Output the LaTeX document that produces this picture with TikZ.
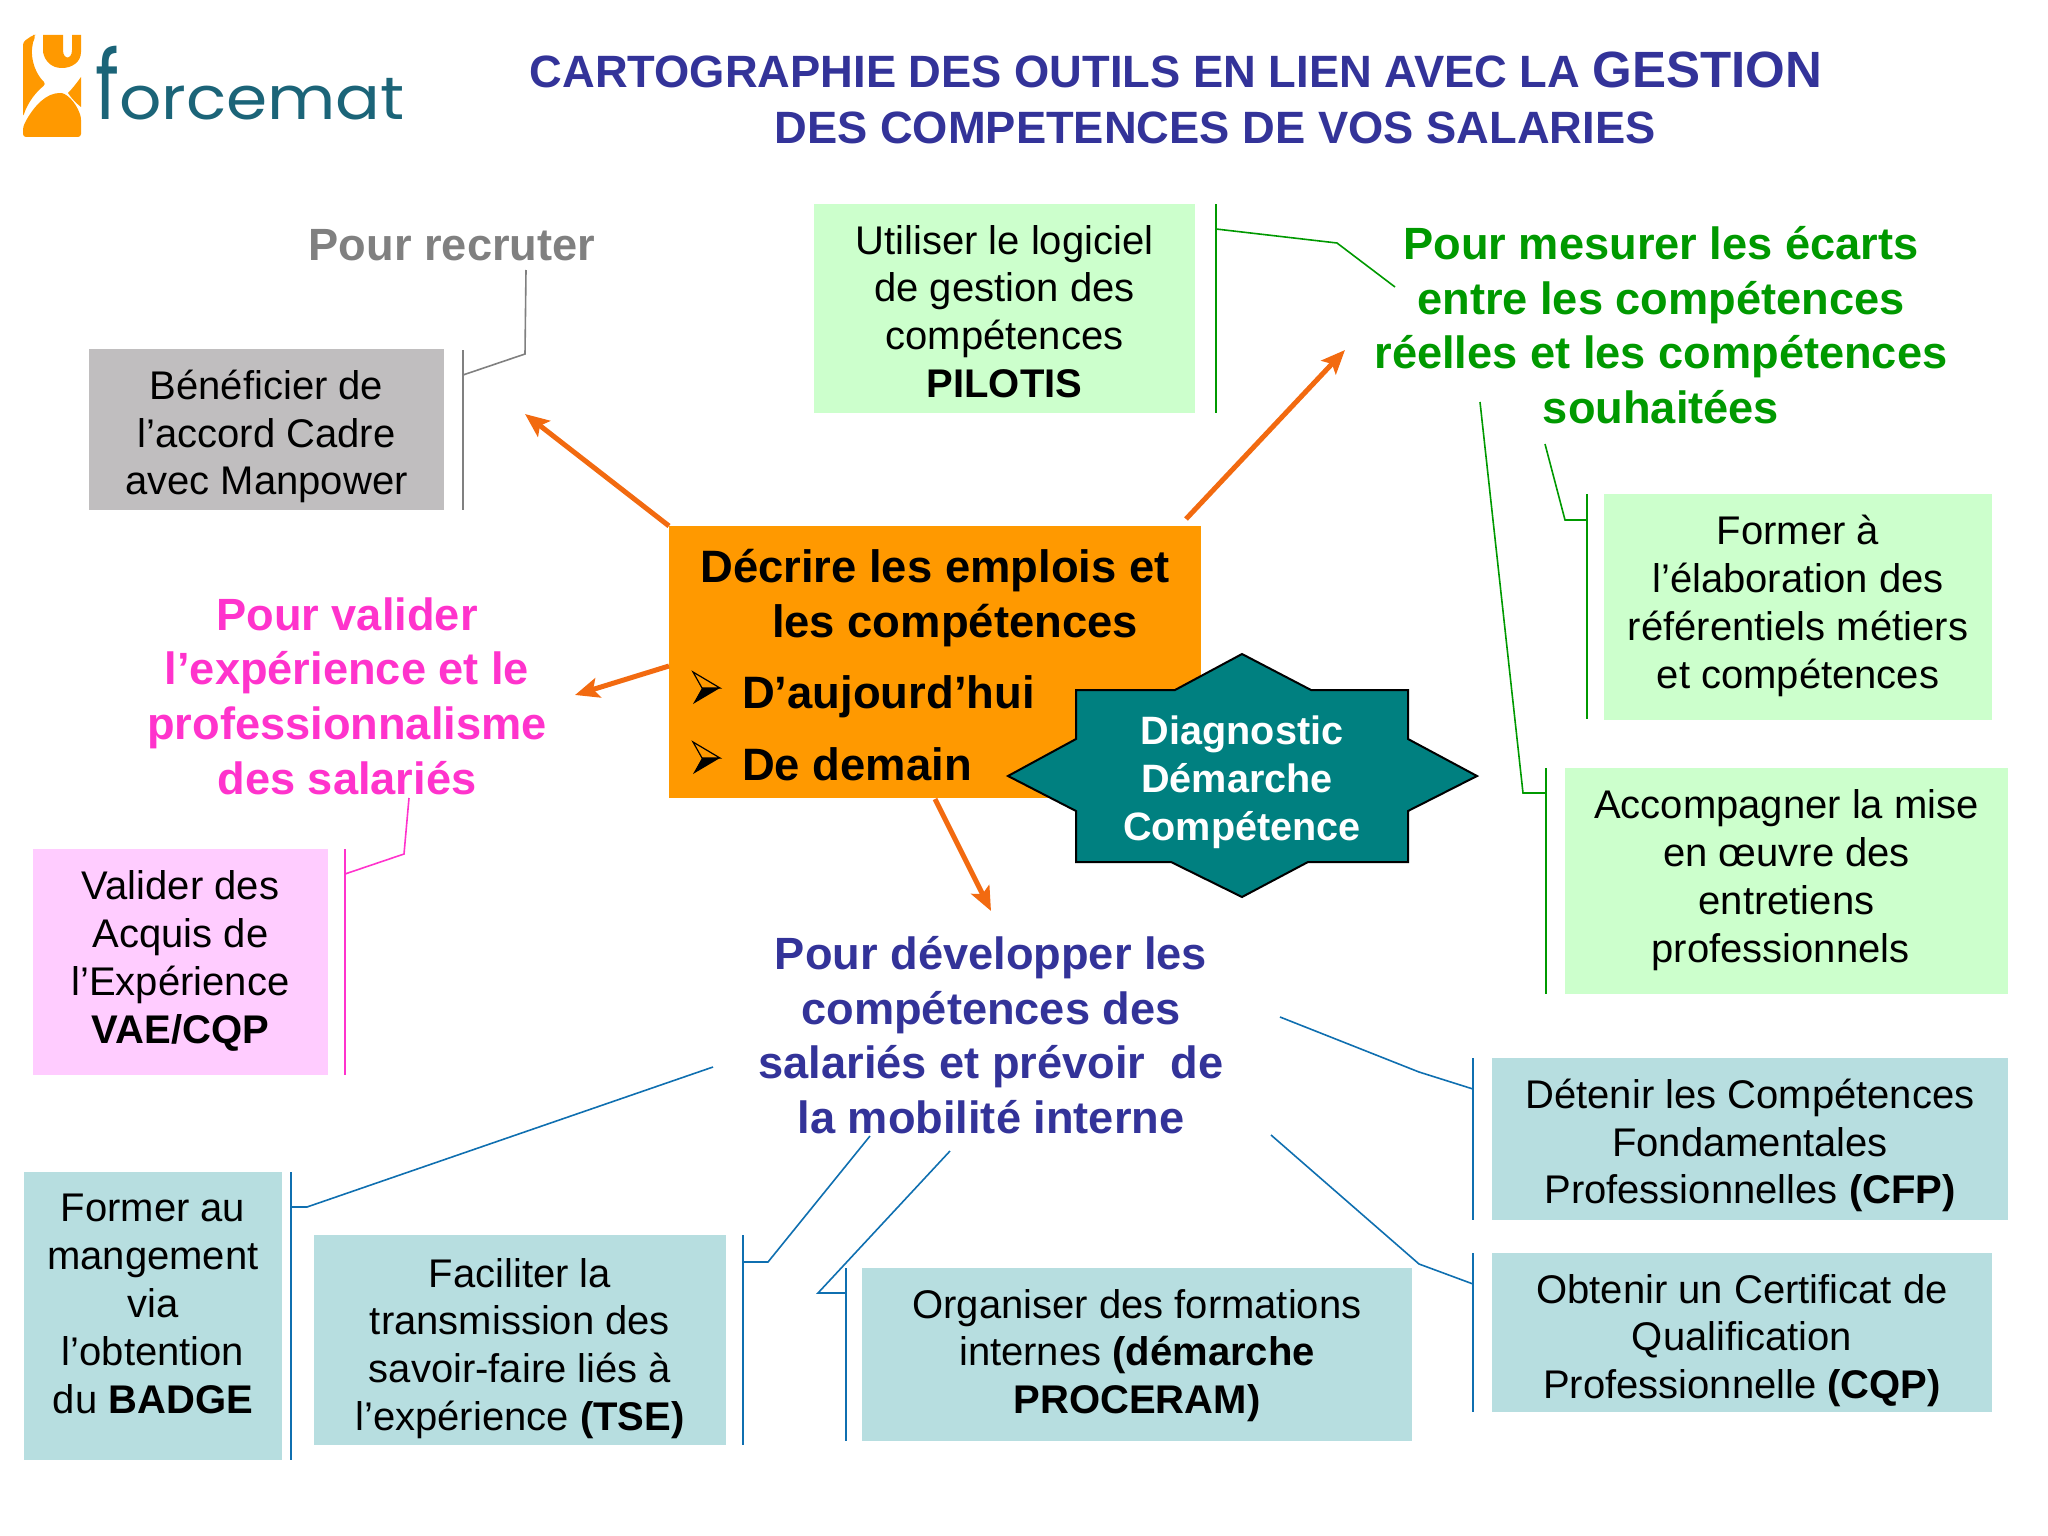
\documentclass[tikz,border=0pt]{standalone}
\usepackage{fontspec}
\setmainfont{Liberation Sans}
\newfontfamily\logofont{Poppins}
\usetikzlibrary{arrows.meta}
\definecolor{cblue}{HTML}{333399}
\definecolor{cgreen}{HTML}{009900}
\definecolor{cpink}{HTML}{FF33CC}
\definecolor{cgray}{HTML}{808080}
\definecolor{boxgray}{HTML}{C0BEBF}
\definecolor{boxgreen}{HTML}{CCFFCC}
\definecolor{boxpink}{HTML}{FFCCFF}
\definecolor{boxblue}{HTML}{B7DEE0}
\definecolor{corange}{HTML}{FF9900}
\definecolor{carrow}{HTML}{F26A10}
\definecolor{cteal}{HTML}{008080}
\definecolor{clink}{HTML}{0F6FB0}
\definecolor{clogo}{HTML}{1B6478}
\tikzset{
  x=1pt,y=-1pt,
  fillbox/.style={inner sep=0pt},
  textbox/.style={inner sep=0pt,align=center,font=\fontsize{40}{47.8}\selectfont,text=black},
  heading/.style={inner sep=0pt,align=center,font=\fontsize{45.2}{54.6}\selectfont\bfseries},
  centretext/.style={inner sep=0pt,font=\fontsize{45.4}{50}\selectfont\bfseries},
  titletext/.style={inner sep=0pt,anchor=base,text=cblue,font=\fontsize{45.3}{50}\selectfont\bfseries},
  bigarrow/.style={draw=carrow,line width=5pt,-{Stealth[length=24pt,width=20pt,inset=5pt]}},
  tick/.style={line width=1.8pt},
  link/.style={line width=1.6pt},
}
\begin{document}
\begin{tikzpicture}
\useasboundingbox (0,0) rectangle (2048,1536);
% logo
\fill[corange,rounded corners=3pt] (23,42) -- (33,35) -- (36,35) .. controls (29,50) and (32,70) .. (46,84) .. controls (36,92) and (28,102) .. (23,117) -- cycle;
\fill[corange] (43,35) -- (43,52) .. controls (45,62) and (52,68) .. (62,68) .. controls (72,68) and (81,62) .. (81,52) -- (81,35) -- (72,35) -- (72,50) .. controls (72,60) and (63,60) .. (63,50) -- (63,35) -- cycle;
\fill[corange] (81,77) .. controls (76,84) and (72,89) .. (68,93) .. controls (72,99) and (76,103) .. (81,107) -- cycle;
\fill[corange,rounded corners=3pt] (23,137) -- (81,137) -- (81,117) .. controls (75,100) and (65,93) .. (58,93) .. controls (42,96) and (30,112) .. (23,127) -- cycle;
\node[inner sep=0pt,text=clogo,anchor=base] (logotext) at (250,120) {\scalebox{1.105}[1.0]{\logofont\fontsize{60}{60}\selectfont\scalebox{1.1}[1.6]{f}orcemat}};
% title
\node[titletext] (title1) at (1176,88) {CARTOGRAPHIE DES OUTILS EN LIEN AVEC LA {\fontsize{51}{51}\selectfont GESTION}};
\node[titletext] (title2) at (1215,143) {DES COMPETENCES DE VOS SALARIES};
% boxes
\node[fillbox,fill=boxgray,minimum width=355pt,minimum height=161pt] (recruit) at (266.5,429.5) {};
\node[textbox] (recruitT) at (266.5,436.5) {Bénéficier de\\l’accord Cadre\\avec Manpower};
\node[fillbox,fill=boxgreen,minimum width=381pt,minimum height=209pt] (pilotis) at (1004.5,308.5) {};
\node[textbox] (pilotisT) at (1004.5,311.5) {Utiliser le logiciel\\de gestion des\\compétences\\\textbf{PILOTIS}};
\node[fillbox,fill=boxgreen,minimum width=388pt,minimum height=226pt] (former) at (1798,607) {};
\node[textbox] (formerT) at (1798,606) {Former à\\l’élaboration des\\référentiels métiers\\et compétences};
\node[fillbox,fill=boxgreen,minimum width=443pt,minimum height=226pt] (accomp) at (1786.5,881) {};
\node[textbox] (accompT) at (1786.5,880) {Accompagner la mise\\en œuvre des\\entretiens\\professionnels\hspace{12pt}\mbox{}};
\node[fillbox,fill=boxpink,minimum width=295pt,minimum height=226pt] (vae) at (180.5,962) {};
\node[textbox] (vaeT) at (180.5,961) {Valider des\\Acquis de\\l’Expérience\\\textbf{VAE/CQP}};
\node[fillbox,fill=boxblue,minimum width=258pt,minimum height=288pt] (badge) at (153,1316) {};
\node[textbox] (badgeT) at (153,1304) {Former au\\mangement\\via\\l’obtention\\du \textbf{BADGE}};
\node[fillbox,fill=boxblue,minimum width=412pt,minimum height=210pt] (tse) at (520,1340) {};
\node[textbox] (tseT) at (520,1348.5) {Faciliter la\\transmission des\\savoir-faire liés à\\l’expérience \textbf{(TSE)}};
\node[fillbox,fill=boxblue,minimum width=550pt,minimum height=173pt] (proceram) at (1137,1354.5) {};
\node[textbox] (proceramT) at (1137,1355.5) {Organiser des formations\\internes \textbf{(démarche}\\\textbf{PROCERAM)}};
\node[fillbox,fill=boxblue,minimum width=516pt,minimum height=162pt] (cfp) at (1750,1139) {};
\node[textbox] (cfpT) at (1750,1145.5) {Détenir les Compétences\\Fondamentales\\Professionnelles \textbf{(CFP)}};
\node[fillbox,fill=boxblue,minimum width=500pt,minimum height=159pt] (cqp) at (1742,1332.5) {};
\node[textbox] (cqpT) at (1742,1340.5) {Obtenir un Certificat de\\Qualification\\Professionnelle \textbf{(CQP)}};
% centre
\node[fill=corange,minimum width=532pt,minimum height=272pt,inner sep=0pt] (centre) at (935,662) {};
\node[centretext,anchor=base] (c1) at (935,582) {Décrire les emplois et};
\node[centretext,anchor=base] (c2) at (955,637) {les compétences};
\node[centretext,anchor=base west] (c3) at (742,708) {D’aujourd’hui};
\node[centretext,anchor=base west] (c4) at (742,780) {De demain};
\foreach \yy in {688,758}{
  \fill[black] (720,\yy) -- (693,\yy+16) -- (702,\yy) -- cycle;
  \draw[black,line width=1.2pt,line join=miter] (693,\yy-16) -- (720,\yy) -- (702,\yy) -- cycle;
}
% star
\filldraw[fill=cteal,draw=black,line width=2pt] (1242,654) -- (1311,690) -- (1408,690) -- (1408,739) -- (1477,776) -- (1408,811) -- (1408,862) -- (1308,862) -- (1242,897) -- (1171,862) -- (1076,862) -- (1076,811) -- (1008,776) -- (1076,739) -- (1076,690) -- (1175,690) -- cycle;
\node[inner sep=0pt,anchor=center,align=center,text=white,font=\fontsize{39.6}{47.8}\selectfont\bfseries] (star) at (1242,782) {Diagnostic\\Démarche\hspace{10pt}\mbox{}\\Compétence};
% headings
\node[heading,text=cgray] (hrec) at (452,245) {Pour recruter};
\node[heading,text=cgreen] (hmes) at (1661,325) {Pour mesurer les écarts\\entre les compétences\\réelles et les compétences\\souhaitées};
\node[heading,text=cpink] (hval) at (347,696) {Pour valider\\l’expérience et le\\professionnalisme\\des salariés};
\node[heading,text=cblue] (hdev) at (991,1035) {Pour développer les\\compétences des\\salariés et prévoir\ \ de\\la mobilité interne};
% anchors of the arrows and connectors
\coordinate (a1s) at (669,526); \coordinate (a1e) at (525,414);
\coordinate (a2s) at (1186,519); \coordinate (a2e) at (1345,350);
\coordinate (a3s) at (669,666); \coordinate (a3e) at (575,695);
\coordinate (a4s) at (935,799); \coordinate (a4e) at (991,911);
\draw[bigarrow] (a1s) -- (a1e);
\draw[bigarrow] (a2s) -- (a2e);
\draw[bigarrow] (a3s) -- (a3e);
\draw[bigarrow] (a4s) -- (a4e);
% gray
\coordinate (l1) at (526,270); \coordinate (l2) at (463,375);
\draw[draw=gray,link] (l1) -- (525,354) -- (l2);
\draw[draw=gray,tick] (463,350) -- (463,510);
% green
\coordinate (g1) at (1216,229); \coordinate (g2) at (1395,287);
\draw[draw=cgreen,link] (g1) -- (1337,243) -- (g2);
\draw[draw=cgreen,tick] (1216,204) -- (1216,413);
\coordinate (g3) at (1545,444); \coordinate (g4) at (1587,520);
\draw[draw=cgreen,link] (g3) -- (1565,520) -- (g4);
\draw[draw=cgreen,tick] (1587,494) -- (1587,719);
\coordinate (g5) at (1480,402); \coordinate (g6) at (1546,793);
\draw[draw=cgreen,link] (g5) -- (1523,793) -- (g6);
\draw[draw=cgreen,tick] (1546,768) -- (1546,994);
% pink
\coordinate (p1) at (409,798); \coordinate (p2) at (345,874);
\draw[draw=cpink,link] (p1) -- (404,854) -- (p2);
\draw[draw=cpink,tick] (345,849) -- (345,1075);
% blue
\coordinate (b1) at (713,1067); \coordinate (b2) at (291,1207);
\draw[draw=clink,link] (b1) -- (307,1207) -- (b2);
\draw[draw=clink,tick] (291,1172) -- (291,1460);
\coordinate (b3) at (870,1136); \coordinate (b4) at (743,1262);
\draw[draw=clink,link] (b3) -- (768,1262) -- (b4);
\draw[draw=clink,tick] (743,1235) -- (743,1445);
\coordinate (b5) at (950,1151); \coordinate (b6) at (846,1293);
\draw[draw=clink,link] (b5) -- (818,1293) -- (b6);
\draw[draw=clink,tick] (846,1268) -- (846,1441);
\coordinate (b7) at (1280,1017); \coordinate (b8) at (1473,1089);
\draw[draw=clink,link] (b7) -- (1419,1072) -- (b8);
\draw[draw=clink,tick] (1473,1058) -- (1473,1220);
\coordinate (b9) at (1271,1135); \coordinate (b10) at (1473,1284);
\draw[draw=clink,link] (b9) -- (1419,1264) -- (b10);
\draw[draw=clink,tick] (1473,1253) -- (1473,1412);
\end{tikzpicture}
\end{document}
